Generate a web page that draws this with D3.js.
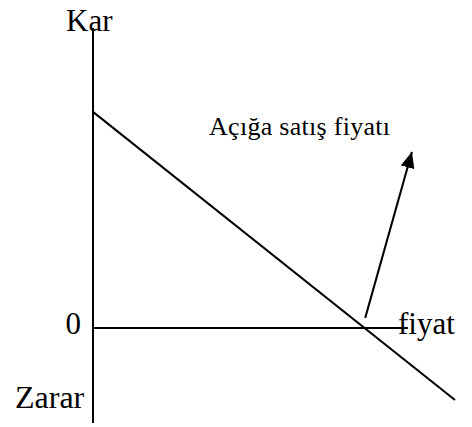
<!DOCTYPE html>
<html>
<head>
<meta charset="utf-8">
<script src="https://cdn.jsdelivr.net/npm/d3@7"></script>
<style>
  body { margin: 0; background: #fff; }
  text { font-family: "Liberation Serif", "Times New Roman", serif; fill: #000; }
</style>
</head>
<body>
<div id="chart"></div>
<script>
// price (x) vs profit (y), arbitrary units
const priceDomain = [0, 100];
const profitDomain = [-26.4, 83.3];
const axisXEnd = 87;
const profitLine = [[0, 60], [100, -20]];   // kar/zarar line
const arrowLine = [[75.2, 2.8], [88.1, 48.9]];
const labels = {y: "Kar", yNeg: "Zarar", zero: "0", x: "fiyat", note: "Açığa satış fiyatı"};

const width = 472, height = 427;

const svg = d3.select("#chart").append("svg")
    .attr("width", width)
    .attr("height", height);

const x = d3.scaleLinear().domain(priceDomain).range([93, 455]);
const y = d3.scaleLinear().domain(profitDomain).range([423, 28]);

const line = d3.line().x(d => x(d[0])).y(d => y(d[1]));

svg.append("defs").append("marker")
    .attr("id", "arrow")
    .attr("viewBox", "0 0 16 14")
    .attr("refX", 16)
    .attr("refY", 7)
    .attr("markerWidth", 16)
    .attr("markerHeight", 14)
    .attr("markerUnits", "userSpaceOnUse")
    .attr("orient", "auto")
    .append("path")
    .attr("d", "M0,0 L16,7 L0,14 Z")
    .attr("fill", "#000");

// vertical axis
svg.append("line")
    .attr("x1", x(0)).attr("x2", x(0))
    .attr("y1", y(profitDomain[1])).attr("y2", y(profitDomain[0]))
    .attr("stroke", "#000").attr("stroke-width", 2);

// horizontal axis at 0
svg.append("line")
    .attr("x1", x(0)).attr("x2", x(axisXEnd))
    .attr("y1", y(0)).attr("y2", y(0))
    .attr("stroke", "#000").attr("stroke-width", 2);

svg.append("path")
    .datum(profitLine)
    .attr("d", line)
    .attr("fill", "none")
    .attr("stroke", "#000")
    .attr("stroke-width", 2);

svg.append("path")
    .datum(arrowLine)
    .attr("d", line)
    .attr("fill", "none")
    .attr("stroke", "#000")
    .attr("stroke-width", 2)
    .attr("marker-end", "url(#arrow)");

svg.append("text")
    .attr("x", 66).attr("y", 31)
    .style("font-size", "31px")
    .text(labels.y);

svg.append("text")
    .attr("x", 15).attr("y", 408)
    .style("font-size", "32px")
    .text(labels.yNeg);

svg.append("text")
    .attr("x", 81).attr("y", 334)
    .attr("text-anchor", "end")
    .style("font-size", "31px")
    .text(labels.zero);

svg.append("text")
    .attr("x", 398).attr("y", 334)
    .style("font-size", "31px")
    .text(labels.x);

svg.append("text")
    .attr("x", 209).attr("y", 135)
    .attr("textLength", 181)
    .style("font-size", "26px")
    .text(labels.note);
</script>
</body>
</html>
